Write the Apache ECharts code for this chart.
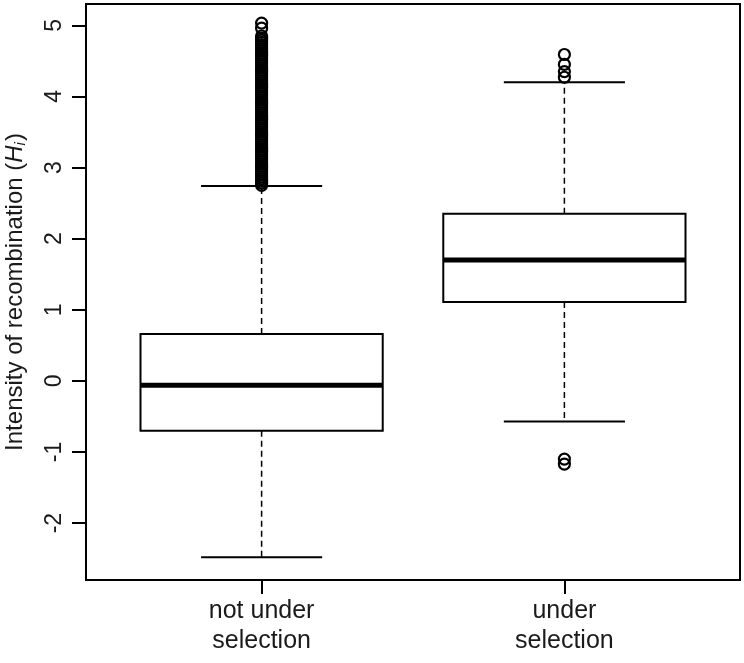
<!DOCTYPE html>
<html>
<head>
<meta charset="utf-8">
<script src="https://cdn.jsdelivr.net/npm/echarts@6/dist/echarts.min.js"></script>
<style>
  html, body { margin: 0; padding: 0; background: #fff; }
  #chart { width: 744px; height: 663px; }
</style>
</head>
<body>
<div id="chart"></div>
<script>
// categories (x positions 1 and 2)
var groups = ['not under\nselection', 'under\nselection'];
// box statistics
var lowerWhisker = [-2.48, -0.57];
var q1 = [-0.70, 1.11];
var median = [-0.06, 1.70];
var q3 = [0.66, 2.35];
var upperWhisker = [2.74, 4.20];
// outliers
var outliersA = [2.75, 2.78, 2.81, 2.84, 2.87, 2.90, 2.93, 2.96, 2.99, 3.02, 3.05, 3.08, 3.11, 3.14,
  3.17, 3.20, 3.23, 3.26, 3.29, 3.32, 3.35, 3.38, 3.41, 3.44, 3.47, 3.50, 3.53, 3.56, 3.59,
  3.62, 3.65, 3.68, 3.71, 3.74, 3.77, 3.80, 3.83, 3.86, 3.89, 3.92, 3.95, 3.98, 4.01, 4.04,
  4.07, 4.10, 4.13, 4.16, 4.19, 4.22, 4.25, 4.28, 4.31, 4.34, 4.37, 4.40, 4.43, 4.46, 4.49,
  4.52, 4.55, 4.58, 4.61, 4.64, 4.67, 4.70, 4.73, 4.76, 4.79, 4.82, 4.85, 4.96, 5.03];
var outliersB = [4.27, 4.35, 4.45, 4.59, -1.10, -1.17];
var yTicks = [-2, -1, 0, 1, 2, 3, 4, 5];
var xTicks = [1, 2];

var boxData = groups.map(function (g, i) {
  return [i + 1, lowerWhisker[i], q1[i], median[i], q3[i], upperWhisker[i]];
});
var outlierData = outliersA.map(function (v) { return [1, v]; })
  .concat(outliersB.map(function (v) { return [2, v]; }));

var chart = echarts.init(document.getElementById('chart'));
var font = 'Liberation Sans, Arial, sans-serif';
var ink = '#1a1a1a';

function renderBox(params, api) {
  var x = api.value(0);
  var lo = api.value(1), a = api.value(2), m = api.value(3), b = api.value(4), hi = api.value(5);
  var half = api.size([0.8, 0])[0] / 2;
  var cap = half / 2;
  var c = api.coord([x, m]);
  var pLo = api.coord([x, lo]), pA = api.coord([x, a]), pB = api.coord([x, b]), pHi = api.coord([x, hi]);
  var solid = { stroke: '#000', lineWidth: 2, fill: null };
  var dashed = { stroke: '#000', lineWidth: 1.5, lineDash: [6, 4] };
  return {
    type: 'group',
    children: [
      { type: 'line', shape: { x1: c[0], y1: pB[1], x2: c[0], y2: pHi[1] }, style: dashed },
      { type: 'line', shape: { x1: c[0], y1: pA[1], x2: c[0], y2: pLo[1] }, style: dashed },
      { type: 'line', shape: { x1: c[0] - cap, y1: pHi[1], x2: c[0] + cap, y2: pHi[1] }, style: solid },
      { type: 'line', shape: { x1: c[0] - cap, y1: pLo[1], x2: c[0] + cap, y2: pLo[1] }, style: solid },
      { type: 'rect', shape: { x: c[0] - half, y: pB[1], width: half * 2, height: pA[1] - pB[1] },
        style: { stroke: '#000', lineWidth: 2, fill: '#fff' } },
      { type: 'line', shape: { x1: c[0] - half, y1: c[1], x2: c[0] + half, y2: c[1] },
        style: { stroke: '#000', lineWidth: 5 } }
    ]
  };
}

var option = {
  backgroundColor: '#fff',
  animation: false,
  grid: {
    left: 86, right: 4, top: 4, bottom: 83,
    containLabel: false, outerBoundsMode: 'none',
    show: true, borderColor: '#000', borderWidth: 2, backgroundColor: 'transparent'
  },
  xAxis: {
    type: 'value',
    min: 0.42, max: 2.58,
    axisLine: { show: false, onZero: false },
    splitLine: { show: false },
    axisTick: { show: true, customValues: xTicks, length: 14, inside: false,
      lineStyle: { color: '#000', width: 2 } },
    axisLabel: {
      customValues: xTicks,
      formatter: function (v) { return groups[Math.round(v) - 1]; },
      fontFamily: font, fontSize: 25, lineHeight: 30, color: ink, margin: 16
    }
  },
  yAxis: {
    type: 'value',
    min: -2.8, max: 5.3,
    axisLine: { show: false, onZero: false },
    splitLine: { show: false },
    axisTick: { show: true, customValues: yTicks, length: 14,
      lineStyle: { color: '#000', width: 2 } },
    axisLabel: {
      customValues: yTicks, rotate: 90, margin: 20,
      fontFamily: font, fontSize: 23, color: ink
    },
    name: '{n|Intensity of recombination (}{h|H}{s|i}{n|)}',
    nameLocation: 'middle',
    nameGap: 58,
    nameRotate: 90,
    nameTextStyle: {
      rich: {
        n: { fontFamily: font, fontSize: 24, color: ink },
        h: { fontFamily: font, fontSize: 24, color: ink, fontStyle: 'italic' },
        s: { fontFamily: font, fontSize: 15, color: ink, fontStyle: 'italic', verticalAlign: 'bottom', padding: [10, 1, 0, 0] }
      }
    }
  },
  series: [
    {
      type: 'custom',
      renderItem: renderBox,
      encode: { x: 0, y: [1, 2, 3, 4, 5] },
      data: boxData,
      z: 2
    },
    {
      type: 'scatter',
      data: outlierData,
      symbol: 'circle',
      symbolSize: 11,
      itemStyle: { color: 'transparent', borderColor: '#000', borderWidth: 2.2, opacity: 1 },
      z: 3
    }
  ]
};
chart.setOption(option);
</script>
</body>
</html>
